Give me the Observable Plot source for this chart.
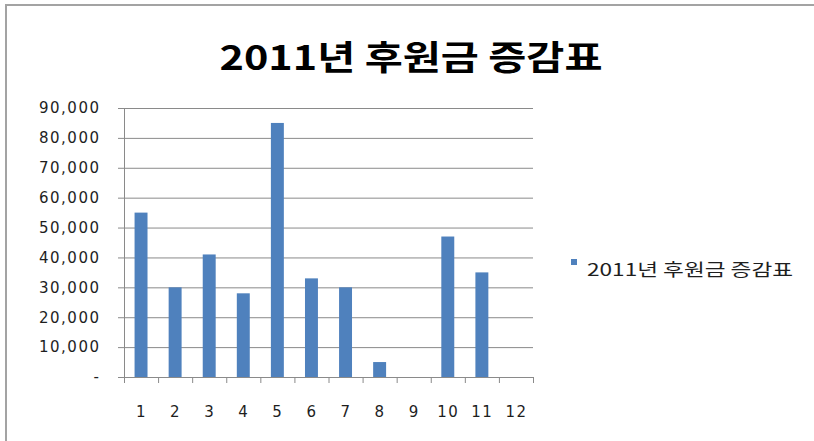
<!DOCTYPE html>
<html>
<head>
<meta charset="utf-8">
<script src="https://cdn.jsdelivr.net/npm/d3@7"></script>
<script src="https://cdn.jsdelivr.net/npm/@observablehq/plot@0.6"></script>
<style>
  body { margin: 0; background: #fff; }
  #wrap { position: relative; width: 814px; height: 441px; overflow: hidden; background: #fff; }
  #frame { position: absolute; left: 5px; top: 4px; width: 900px; height: 600px;
           border-left: 2px solid #a3a3a3; border-top: 2px solid #a3a3a3; box-sizing: border-box; }
  #chart { position: absolute; left: 0; top: 0; }
  #overlay { position: absolute; left: 0; top: 0; }
</style>
</head>
<body>
<div id="wrap">
  <div id="frame"></div>
  <div id="chart"></div>
  <svg id="overlay" width="814" height="441"></svg>
</div>
<script>
const chartTitle = "2011년 후원금 증감표";
const seriesName = "2011년 후원금 증감표";
const months = [1, 2, 3, 4, 5, 6, 7, 8, 9, 10, 11, 12];
const values = [55000, 30000, 41000, 28000, 85000, 33000, 30000, 5000, 0, 47000, 35000, 0];
const yTicks = [0, 10000, 20000, 30000, 40000, 50000, 60000, 70000, 80000, 90000];
const barColor = "#4F81BD";
const gridColor = "#8a8a8a";

const data = months.map((m, i) => ({ m, v: values[i] }));
const half = 0.19;
const boundaries = d3.range(months[0] - 0.5, months[months.length - 1] + 1, 1);

const chart = Plot.plot({
  width: 814,
  height: 441,
  marginLeft: 124,
  marginRight: 281,
  marginTop: 108,
  marginBottom: 64,
  x: { domain: [0.5, 12.5] },
  y: { domain: [0, 90000] },
  style: "font-family:'DejaVu Sans';font-size:15px;letter-spacing:1.5px;background:transparent;color:#222;",
  marks: [
    Plot.ruleY(yTicks.filter(t => t > 0), { stroke: gridColor, strokeOpacity: 1 }),
    Plot.rectY(data, { x1: d => d.m - half, x2: d => d.m + half, y: "v", fill: barColor }),
    Plot.ruleY([0], { stroke: gridColor, strokeOpacity: 1 }),
    Plot.ruleX([0.5], { y1: 0, y2: 90000, stroke: gridColor, strokeOpacity: 1 }),
    Plot.axisY({
      ticks: yTicks, tickSize: 6, tickPadding: 18, label: null,
      tickFormat: d => d === 0 ? "-" : d3.format(",")(d),
      stroke: gridColor, strokeOpacity: 1, fill: "#1e1e1e"
    }),
    Plot.axisX({ ticks: boundaries, tickSize: 6, text: null, label: null, stroke: gridColor, strokeOpacity: 1 }),
    Plot.axisX({ ticks: months, tickSize: 0, tickPadding: 29, label: null, tickFormat: d => String(d), fill: "#1e1e1e" })
  ]
});
document.getElementById("chart").appendChild(chart);

const ov = d3.select("#overlay");
ov.append("text")
  .attr("x", 411).attr("y", 70)
  .attr("text-anchor", "middle")
  .attr("font-family", "'Noto Sans CJK KR'")
  .attr("font-weight", 700)
  .attr("font-size", 34)
  .attr("fill", "#000")
  .attr("textLength", 383)
  .attr("lengthAdjust", "spacingAndGlyphs")
  .text(chartTitle);

ov.append("rect")
  .attr("x", 571).attr("y", 259).attr("width", 6).attr("height", 6)
  .attr("fill", barColor);
ov.append("text")
  .attr("x", 587).attr("y", 276)
  .attr("font-family", "'Noto Sans CJK KR'")
  .attr("font-size", 17)
  .attr("fill", "#1e1e1e")
  .attr("textLength", 206)
  .attr("lengthAdjust", "spacingAndGlyphs")
  .text(seriesName);
</script>
</body>
</html>
